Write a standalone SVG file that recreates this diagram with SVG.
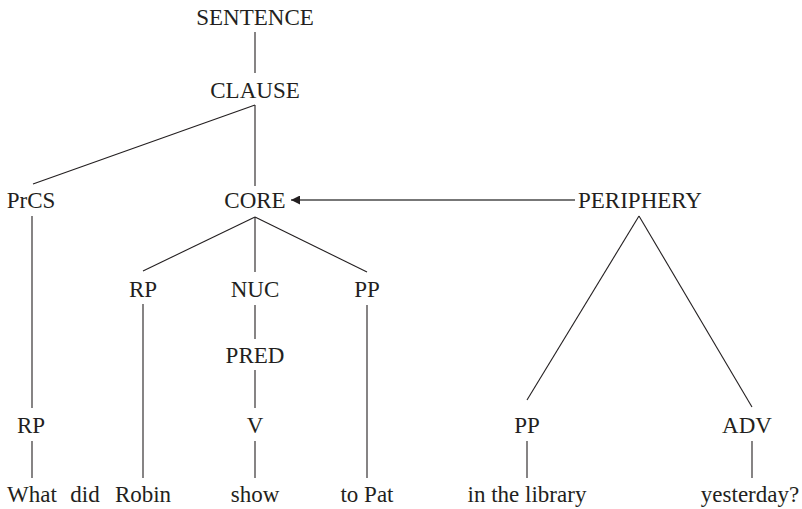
<svg xmlns="http://www.w3.org/2000/svg" width="802" height="509" viewBox="0 0 802 509">
<defs>
<style>
text{font-family:"Liberation Serif","Times New Roman",serif;font-size:23px;fill:#231f20;text-anchor:middle}
.e line{stroke:#231f20;stroke-width:1.1;fill:none}
.e .arr{stroke:#4a4a4a;stroke-width:1.3}
</style>
<marker id="ah" viewBox="0 0 10 10" refX="10" refY="5" markerWidth="9" markerHeight="9" markerUnits="userSpaceOnUse" orient="auto-start-reverse">
<path d="M0,0 L10,5 L0,10 Z" fill="#231f20"/>
</marker>
</defs>
<rect width="802" height="509" fill="#fff"/>
<g id="connectors" class="e">
<line x1="255" y1="32" x2="255" y2="73"/>
<line x1="255" y1="105" x2="33" y2="184"/>
<line x1="255" y1="105" x2="255" y2="186"/>
<line x1="32" y1="216" x2="32" y2="408"/>
<line x1="32" y1="441" x2="32" y2="478"/>
<line x1="255" y1="217" x2="143" y2="271"/>
<line x1="255" y1="217" x2="255" y2="272"/>
<line x1="255" y1="217" x2="367" y2="272"/>
<line x1="143" y1="304" x2="143" y2="478"/>
<line x1="367" y1="305" x2="367" y2="478"/>
<line x1="255" y1="305" x2="255" y2="339"/>
<line x1="255" y1="370" x2="255" y2="408"/>
<line x1="255" y1="441" x2="255" y2="478"/>
<line class="arr" x1="575" y1="200" x2="291" y2="200" marker-end="url(#ah)"/>
<line x1="639" y1="216" x2="527" y2="400"/>
<line x1="639" y1="216" x2="752" y2="407"/>
<line x1="527" y1="441" x2="527" y2="478"/>
<line x1="752" y1="441" x2="752" y2="478"/>
</g>
<g id="n-sentence"><text x="255" y="25">SENTENCE</text></g>
<g id="n-clause"><text x="255" y="98">CLAUSE</text></g>
<g id="n-prcs"><text x="31" y="208">PrCS</text></g>
<g id="n-core"><text x="255" y="208">CORE</text></g>
<g id="n-periphery"><text x="640" y="208">PERIPHERY</text></g>
<g id="n-rp1"><text x="143" y="297">RP</text></g>
<g id="n-nuc"><text x="255" y="297">NUC</text></g>
<g id="n-pp1"><text x="367" y="297">PP</text></g>
<g id="n-pred"><text x="255" y="363">PRED</text></g>
<g id="n-rp2"><text x="31" y="433">RP</text></g>
<g id="n-v"><text x="255" y="433">V</text></g>
<g id="n-pp2"><text x="527" y="433">PP</text></g>
<g id="n-adv"><text x="747" y="433">ADV</text></g>
<g id="w-what"><text x="32" y="502">What</text></g>
<g id="w-did"><text x="85" y="502">did</text></g>
<g id="w-robin"><text x="143" y="502">Robin</text></g>
<g id="w-show"><text x="255" y="502">show</text></g>
<g id="w-topat"><text x="367" y="502">to Pat</text></g>
<g id="w-library"><text x="527" y="502">in the library</text></g>
<g id="w-yesterday"><text x="750" y="502">yesterday?</text></g>
</svg>
